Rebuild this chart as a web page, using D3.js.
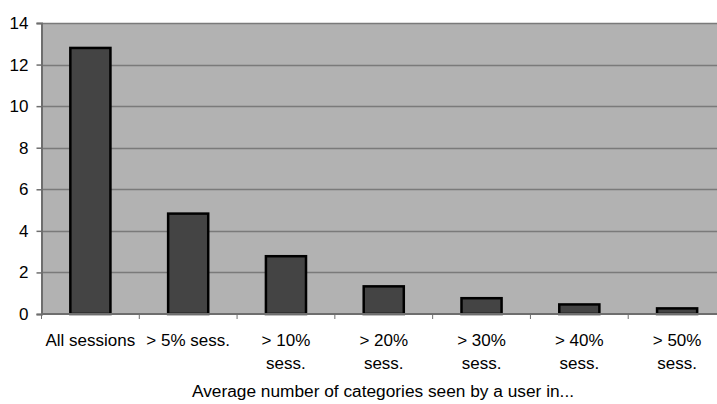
<!DOCTYPE html>
<html>
<head>
<meta charset="utf-8">
<script src="https://cdn.jsdelivr.net/npm/d3@7"></script>
<style>
  html, body { margin: 0; padding: 0; background: #ffffff; }
  svg { display: block; font-family: "Liberation Sans", Arial, sans-serif; }
</style>
</head>
<body>
<svg id="chart" width="717" height="404"></svg>
<script>
// Average number of categories seen by a user, per session-share threshold
const categories = [
  ["All sessions"],
  ["> 5% sess."],
  ["> 10%", "sess."],
  ["> 20%", "sess."],
  ["> 30%", "sess."],
  ["> 40%", "sess."],
  ["> 50%", "sess."]
];
const values = [12.8, 4.83, 2.78, 1.33, 0.76, 0.46, 0.27];
const yTicks = [0, 2, 4, 6, 8, 10, 12, 14];
const xTitle = "Average number of categories seen by a user in...";

const svg = d3.select("#chart");
const margin = { left: 41.5, top: 23, right: 726, bottom: 314 };

const x = d3.scaleBand()
  .domain(d3.range(categories.length))
  .range([margin.left, margin.right])
  .paddingInner(0)
  .paddingOuter(0);

const y = d3.scaleLinear()
  .domain([0, 14])
  .range([margin.bottom, margin.top]);

// plot area background
svg.append("rect")
  .attr("x", margin.left)
  .attr("y", margin.top)
  .attr("width", margin.right - margin.left)
  .attr("height", margin.bottom - margin.top)
  .attr("fill", "#b2b2b2");

// horizontal gridlines
svg.append("g")
  .selectAll("line")
  .data(yTicks.filter(d => d > 0))
  .join("line")
  .attr("x1", margin.left)
  .attr("x2", margin.right)
  .attr("y1", d => Math.round(y(d)) + 0.5)
  .attr("y2", d => Math.round(y(d)) + 0.5)
  .attr("stroke", "#7a7a7a")
  .attr("stroke-width", 1.5);

// bars
const barW = x.bandwidth() * 0.41;
svg.append("g")
  .selectAll("rect")
  .data(values)
  .join("rect")
  .attr("x", (d, i) => x(i) + (x.bandwidth() - barW) / 2)
  .attr("y", d => y(d))
  .attr("width", barW)
  .attr("height", d => y(0) - y(d))
  .attr("fill", "#444444")
  .attr("stroke", "#000000")
  .attr("stroke-width", 2.5);

// y axis
const yAxis = d3.axisLeft(y)
  .tickValues(yTicks)
  .tickSize(5)
  .tickPadding(8)
  .tickFormat(d3.format("d"));
const gy = svg.append("g")
  .attr("transform", `translate(${margin.left},0)`)
  .call(yAxis);
gy.select(".domain").attr("stroke", "#6e6e6e").attr("stroke-width", 2);
gy.selectAll(".tick line").attr("stroke", "#6e6e6e").attr("stroke-width", 1.5);
gy.selectAll(".tick text")
  .attr("font-size", 17)
  .attr("fill", "#000")
  .attr("font-family", "Liberation Sans, Arial, sans-serif");

// x axis with ticks on band boundaries
const gx = svg.append("g");
gx.append("line")
  .attr("x1", margin.left)
  .attr("x2", margin.right)
  .attr("y1", margin.bottom)
  .attr("y2", margin.bottom)
  .attr("stroke", "#6e6e6e")
  .attr("stroke-width", 2);
gx.selectAll("line.tick")
  .data(d3.range(categories.length + 1))
  .join("line")
  .attr("class", "tick")
  .attr("x1", i => x.step() * i + margin.left)
  .attr("x2", i => x.step() * i + margin.left)
  .attr("y1", margin.bottom)
  .attr("y2", margin.bottom + 5)
  .attr("stroke", "#6e6e6e")
  .attr("stroke-width", 1);

// category labels
const labels = svg.append("g")
  .attr("font-size", 17)
  .attr("fill", "#000")
  .attr("text-anchor", "middle");
categories.forEach((lines, i) => {
  const t = labels.append("text")
    .attr("x", x(i) + x.bandwidth() / 2)
    .attr("y", 346);
  lines.forEach((s, k) => {
    t.append("tspan")
      .attr("x", x(i) + x.bandwidth() / 2)
      .attr("dy", k === 0 ? 0 : 23)
      .text(s);
  });
});

// axis title
svg.append("text")
  .attr("x", 383)
  .attr("y", 397)
  .attr("text-anchor", "middle")
  .attr("font-size", 17.3)
  .attr("fill", "#000")
  .text(xTitle);
</script>
</body>
</html>
